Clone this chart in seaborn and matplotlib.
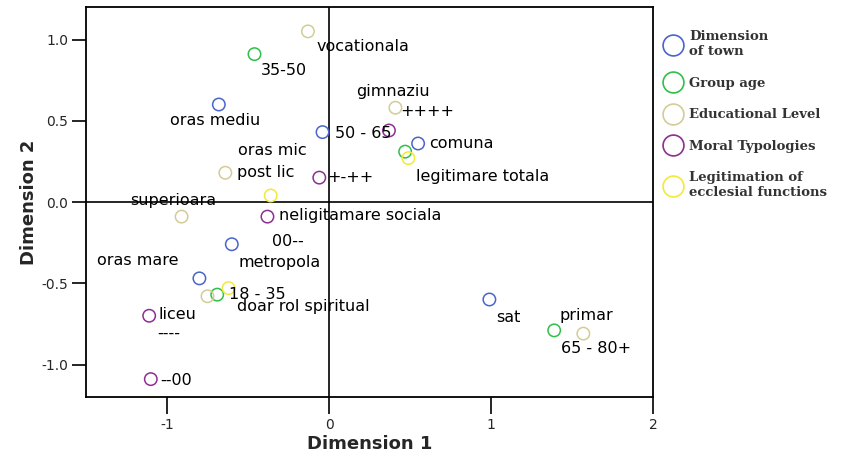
import matplotlib
matplotlib.use("Agg")
import matplotlib.pyplot as plt
from matplotlib.lines import Line2D
import seaborn as sns
import pandas as pd

# ---- data ----
groups = ["Dimension of town", "Group age", "Educational Level",
          "Moral Typologies", "Legitimation of ecclesial functions"]
legend_labels = ["Dimension\nof town", "Group age", "Educational Level",
                 "Moral Typologies", "Legitimation of\necclesial functions"]
group_colors = ["#4a64cc", "#2fbf4a", "#d4cc96", "#8e2e92", "#f2ea3a"]

town_x = [-0.68, -0.04, 0.55, -0.60, -0.80, 0.99]
town_y = [0.60, 0.43, 0.36, -0.26, -0.47, -0.60]
age_x = [-0.46, 0.47, -0.69, 1.39]
age_y = [0.91, 0.31, -0.57, -0.79]
edu_x = [-0.13, 0.41, -0.64, -0.91, -0.75, 1.57]
edu_y = [1.05, 0.58, 0.18, -0.09, -0.58, -0.81]
moral_x = [0.37, -0.06, -0.38, -1.11, -1.10]
moral_y = [0.44, 0.15, -0.09, -0.70, -1.09]
legit_x = [-0.36, 0.49, -0.62]
legit_y = [0.04, 0.27, -0.53]

label_texts = ["vocationala", "35-50", "gimnaziu", "++++", "oras mediu",
               "50 - 65", "comuna", "oras mic", "post lic", "+-++",
               "legitimare totala", "superioara", "neligitamare sociala",
               "00--", "oras mare", "metropola", "18 - 35",
               "doar rol spiritual", "liceu", "----", "--00", "sat",
               "primar", "65 - 80+"]
label_x = [-0.08, -0.42, 0.17, 0.44, -0.98, 0.04, 0.62, -0.56, -0.57,
           -0.01, 0.54, -1.23, -0.31, -0.35, -1.43, -0.56, -0.62, -0.57,
           -1.05, -1.06, -1.04, 1.03, 1.42, 1.43]
label_y = [0.96, 0.81, 0.68, 0.56, 0.50, 0.42, 0.36, 0.32, 0.18, 0.15,
           0.16, 0.01, -0.08, -0.24, -0.36, -0.37, -0.57, -0.64, -0.69,
           -0.81, -1.10, -0.71, -0.70, -0.90]

xticks = [-1, 0, 1, 2]
yticks = [-1.0, -0.5, 0.0, 0.5, 1.0]

# ---- build table ----
xs = [town_x, age_x, edu_x, moral_x, legit_x]
ys = [town_y, age_y, edu_y, moral_y, legit_y]
rows = []
for g, gx, gy in zip(groups, xs, ys):
    for a, b in zip(gx, gy):
        rows.append({"dim1": a, "dim2": b, "group": g})
df = pd.DataFrame(rows)

sns.set_style("white")
plt.rcParams["font.family"] = ["DejaVu Sans"]

fig = plt.figure(figsize=(8.47, 4.62), dpi=100)
ax = fig.add_axes([86 / 847, 1 - 397 / 462, (653 - 86) / 847, (397 - 7) / 462])

palette = dict(zip(groups, group_colors))
sns.scatterplot(data=df, x="dim1", y="dim2", hue="group", palette=palette,
                s=80, legend=False, ax=ax, linewidth=0, zorder=3)
coll = ax.collections[0]
fcs = coll.get_facecolors()
coll.set_edgecolors(fcs)
coll.set_facecolors("none")
coll.set_linewidths(1.1)

ax.axhline(0, color="black", lw=1.2, zorder=1)
ax.axvline(0, color="black", lw=1.2, zorder=1)

for t, lx, ly in zip(label_texts, label_x, label_y):
    ax.text(lx, ly, t, fontsize=11.5, va="center", ha="left", color="black",
            zorder=4)

ax.set_xlim(-1.5, 2.0)
ax.set_ylim(-1.2, 1.2)
ax.set_xticks(xticks)
ax.set_xticklabels([str(v) for v in xticks])
ax.set_yticks(yticks)
ax.set_yticklabels([f"{v:.1f}" for v in yticks])
ax.tick_params(axis="both", direction="out", length=10, width=1.2,
               labelsize=10, color="black", bottom=True, left=True, pad=3)
ax.tick_params(axis="x", length=12, pad=3)
for sp in ax.spines.values():
    sp.set_color("black")
    sp.set_linewidth(1.3)

ax.set_xlabel("Dimension 1", fontsize=13, fontweight="bold", labelpad=2)
ax.set_ylabel("Dimension 2", fontsize=13, fontweight="bold", labelpad=2)

handles = [Line2D([0], [0], marker="o", linestyle="none", markersize=15,
                  markerfacecolor="none", markeredgecolor=c,
                  markeredgewidth=1.2) for c in group_colors]
leg = fig.legend(handles, legend_labels, loc="upper left",
                 bbox_to_anchor=(660 / 847, 1 - 25 / 462), frameon=False,
                 prop={"family": "DejaVu Serif", "weight": "bold", "size": 9.5},
                 labelspacing=1.4, handletextpad=0.6, handlelength=1.2,
                 borderaxespad=0)
for txt in leg.get_texts():
    txt.set_color("#333333")

fig.savefig("out.png", dpi=100)
